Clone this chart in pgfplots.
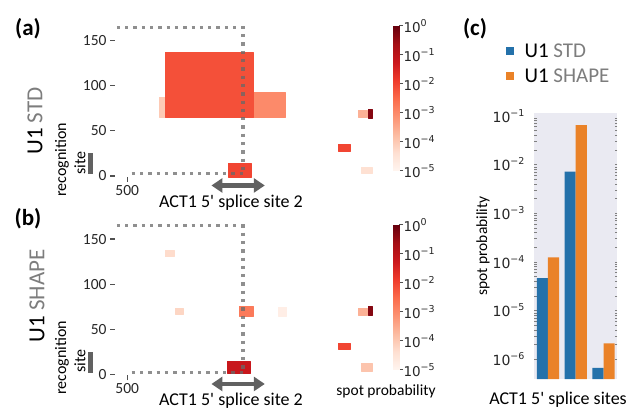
\documentclass[border=0pt]{standalone}
\usepackage{fontspec}
\setmainfont{Carlito}
\newfontfamily\dejavu{DejaVu Sans}
\usepackage{pgfplots}
\pgfplotsset{compat=1.18}
\usetikzlibrary{arrows.meta}

\definecolor{tabblue}{RGB}{36,113,170}
\definecolor{taborange}{RGB}{234,130,40}
\definecolor{seabg}{RGB}{234,234,242}
\definecolor{labgray}{RGB}{125,125,125}
\definecolor{tickgray}{RGB}{80,80,80}
\definecolor{dotgray}{RGB}{105,105,105}

\newcommand\fs[1]{\fontsize{#1}{#1}\selectfont}
\newcommand\pw[1]{10\raisebox{0.42em}{\fs{9.5}#1}}
\newcommand\ap{{\addfontfeature{Ligatures=TeXOff}'}}

\tikzset{
  dblarrow/.style={{Triangle[length=11pt,width=14pt]}-{Triangle[length=11pt,width=14pt]},
    line width=4.5pt, color=black!62},
}

\pgfplotsset{
  reds/.style={colormap={reds}{rgb255=(255,245,240) rgb255=(254,224,210)
    rgb255=(252,187,161) rgb255=(252,146,114) rgb255=(251,106,74)
    rgb255=(239,59,44) rgb255=(203,24,29) rgb255=(165,15,21) rgb255=(103,0,13)}},
  heat/.style={
    anchor=south west, scale only axis, width=257.8pt, height=151.7pt,
    xmin=486.5, xmax=772, ymin=-1, ymax=167, clip=false,
    axis lines*=left, axis line style={draw=none},
    tick align=outside, major tick length=5pt,
    tick style={color=tickgray, line width=1.1pt},
    xtick={500}, ytick={0,50,100,150},
    xticklabels={500}, yticklabels={0,50,100,150},
    ticklabel style={font=\fs{15.5}, text=black!85},
    reds, point meta min=-5, point meta max=0,
  },
  cbar/.style={
    anchor=north west, scale only axis, width=6pt, height=145pt,
    xmin=0, xmax=1, ymin=-5, ymax=0,
    axis x line=none, axis y line*=right, axis line style={draw=none},
    tick align=outside, major tick length=4pt,
    tick style={color=tickgray, line width=1pt},
    ytick={-5,-4,-3,-2,-1,0},
    yticklabels={\pw{−5},\pw{−4},\pw{−3},\pw{−2},\pw{−1},\pw{0}},
    yticklabel style={font=\dejavu\fs{13.5}, text=black!85, xshift=-3pt},
    reds, point meta min=-5, point meta max=0,
  },
  dotline/.style={color=dotgray, opacity=0.75, line width=3.3pt,
    dash pattern=on 3.3pt off 5pt},
  spots/.style={patch, patch type=rectangle, shader=flat, point meta=explicit},
}

\begin{document}
\begin{tikzpicture}
\useasboundingbox (0pt,0pt) rectangle (635pt,-414pt);

% ---------- (a) U1 STD ----------
\begin{axis}[heat, at={(115pt,-176.9pt)}]
\addplot[spots] table[meta=c] {
x y c
535.4 65 -4.0
541.7 65 -4.0
541.7 87.8 -4.0
535.4 87.8 -4.0
639.2 65 -3.0
674.6 65 -3.0
674.6 93 -3.0
639.2 93 -3.0
541.7 65 -2.15
639.2 65 -2.15
639.2 137.6 -2.15
541.7 137.6 -2.15
611.5 -1 -2.0
637 -1 -2.0
637 14.4 -2.0
611.5 14.4 -2.0
755.5 65.3 -3.6
765.5 65.3 -3.6
765.5 73.1 -3.6
755.5 73.1 -3.6
766.6 64.2 -0.3
771 64.2 -0.3
771 74.2 -0.3
766.6 74.2 -0.3
733.3 27.7 -2.0
746.6 27.7 -2.0
746.6 35.4 -2.0
733.3 35.4 -2.0
758.8 3.3 -4.4
771 3.3 -4.4
771 10 -4.4
758.8 10 -4.4
};
\addplot[dotline] coordinates {(488.6,164.7)(628.1,164.7)(628.1,2.5)};
\addplot[dotline] coordinates {(505,2.5)(628.1,2.5)};
\draw[dblarrow] (axis cs:593.3,-10.5) -- (axis cs:652.4,-10.5);
\end{axis}

\begin{axis}[cbar, at={(393pt,-26pt)}]
\addplot[surf, shader=interp, mesh/cols=2, point meta=explicit] table[meta=c] {
x y c
0 -5 -5
1 -5 -5
0 0 0
1 0 0
};
\end{axis}

% ---------- (b) U1 SHAPE ----------
\begin{axis}[heat, at={(115pt,-375.4pt)}]
\addplot[spots] table[meta=c] {
x y c
541.7 130.5 -4.3
551.8 130.5 -4.3
551.8 137.9 -4.3
541.7 137.9 -4.3
552.8 67 -4.2
562 67 -4.2
562 73.3 -4.2
552.8 73.3 -4.2
624 64.8 -2.75
639.5 64.8 -2.75
639.5 75.9 -2.75
624 75.9 -2.75
667 64.8 -4.8
676.5 64.8 -4.8
676.5 74.5 -4.8
667 74.5 -4.8
611 1.3 -1.2
636.5 1.3 -1.2
636.5 15 -1.2
611 15 -1.2
755.5 65.9 -3.6
765.5 65.9 -3.6
765.5 73.6 -3.6
755.5 73.6 -3.6
766.6 65.9 -0.3
771 65.9 -0.3
771 75.9 -0.3
766.6 75.9 -0.3
733.3 28.2 -2.0
746.6 28.2 -2.0
746.6 34.9 -2.0
733.3 34.9 -2.0
758.8 3.9 -3.9
771 3.9 -3.9
771 12.7 -3.9
758.8 12.7 -3.9
};
\addplot[dotline] coordinates {(488.6,164.7)(628.1,164.7)(628.1,2.5)};
\addplot[dotline] coordinates {(505,2.5)(628.1,2.5)};
\draw[dblarrow] (axis cs:593.3,-10.5) -- (axis cs:652.4,-10.5);
\end{axis}

\begin{axis}[cbar, at={(393pt,-225pt)}]
\addplot[surf, shader=interp, mesh/cols=2, point meta=explicit] table[meta=c] {
x y c
0 -5 -5
1 -5 -5
0 0 0
1 0 0
};
\end{axis}

% ---------- (c) bars ----------
\begin{axis}[
  at={(534pt,-379pt)}, anchor=south west, scale only axis,
  width=83.4pt, height=266.3pt,
  ymode=log, log origin y=infty, ymin=3.89e-7, ymax=0.1153,
  xmin=-0.5, xmax=2.5,
  axis background/.style={fill=seabg}, axis line style={draw=none},
  xtick=\empty, ytick={1e-6,1e-5,1e-4,1e-3,1e-2,1e-1},
  yticklabels={\pw{−6},\pw{−5},\pw{−4},\pw{−3},\pw{−2},\pw{−1}},
  major tick length=0pt,
  yticklabel style={font=\dejavu\fs{14}, text=black!85, xshift=-6pt},
]
\addplot[ybar, bar width=0.4, bar shift=-0.2, fill=tabblue, draw=none]
  coordinates {(0,4.6e-5) (1,7.1e-3) (2,6.6e-7)};
\addplot[ybar, bar width=0.4, bar shift=0.2, fill=taborange, draw=none]
  coordinates {(0,1.23e-4) (1,0.064) (2,2.1e-6)};
\end{axis}

% ---------- annotations ----------
\node[font=\bfseries\fs{23}] at (28pt,-29pt) {(a)};
\node[font=\bfseries\fs{23}] at (28pt,-219pt) {(b)};
\node[font=\bfseries\fs{23}] at (475pt,-29pt) {(c)};

\node[rotate=90, font=\fs{23}] at (35pt,-121pt) {U1 \textcolor{labgray}{STD}};
\node[rotate=90, font=\fs{23}] at (37pt,-296pt) {U1 \textcolor{labgray}{SHAPE}};

\node[rotate=90, font=\fs{16}] at (62pt,-160pt) {recognition};
\node[rotate=90, font=\fs{16}] at (80pt,-163pt) {site};
\fill[black!62] (88pt,-153pt) rectangle (93pt,-174pt);
\node[rotate=90, font=\fs{16}] at (62pt,-358pt) {recognition};
\node[rotate=90, font=\fs{16}] at (80pt,-361pt) {site};
\fill[black!62] (88pt,-352pt) rectangle (93pt,-373pt);

\node[font=\fs{18}] at (231pt,-203pt) {ACT1 5\ap{} splice site 2};
\node[font=\fs{18}] at (231pt,-401pt) {ACT1 5\ap{} splice site 2};
\node[font=\fs{15.5}] at (386pt,-391pt) {spot probability};

\node[rotate=90, font=\fs{15.5}] at (483pt,-246pt) {spot probability};
\node[font=\fs{18}] at (558pt,-400pt) {ACT1 5\ap{} splice sites};

\fill[tabblue] (506pt,-47pt) rectangle (514pt,-55pt);
\fill[taborange] (506pt,-72pt) rectangle (514pt,-80pt);
\node[anchor=west, font=\fs{21}] at (521pt,-51pt) {U1 \textcolor{labgray}{STD}};
\node[anchor=west, font=\fs{21}] at (521pt,-76pt) {U1 \textcolor{labgray}{SHAPE}};
\end{tikzpicture}
\end{document}
